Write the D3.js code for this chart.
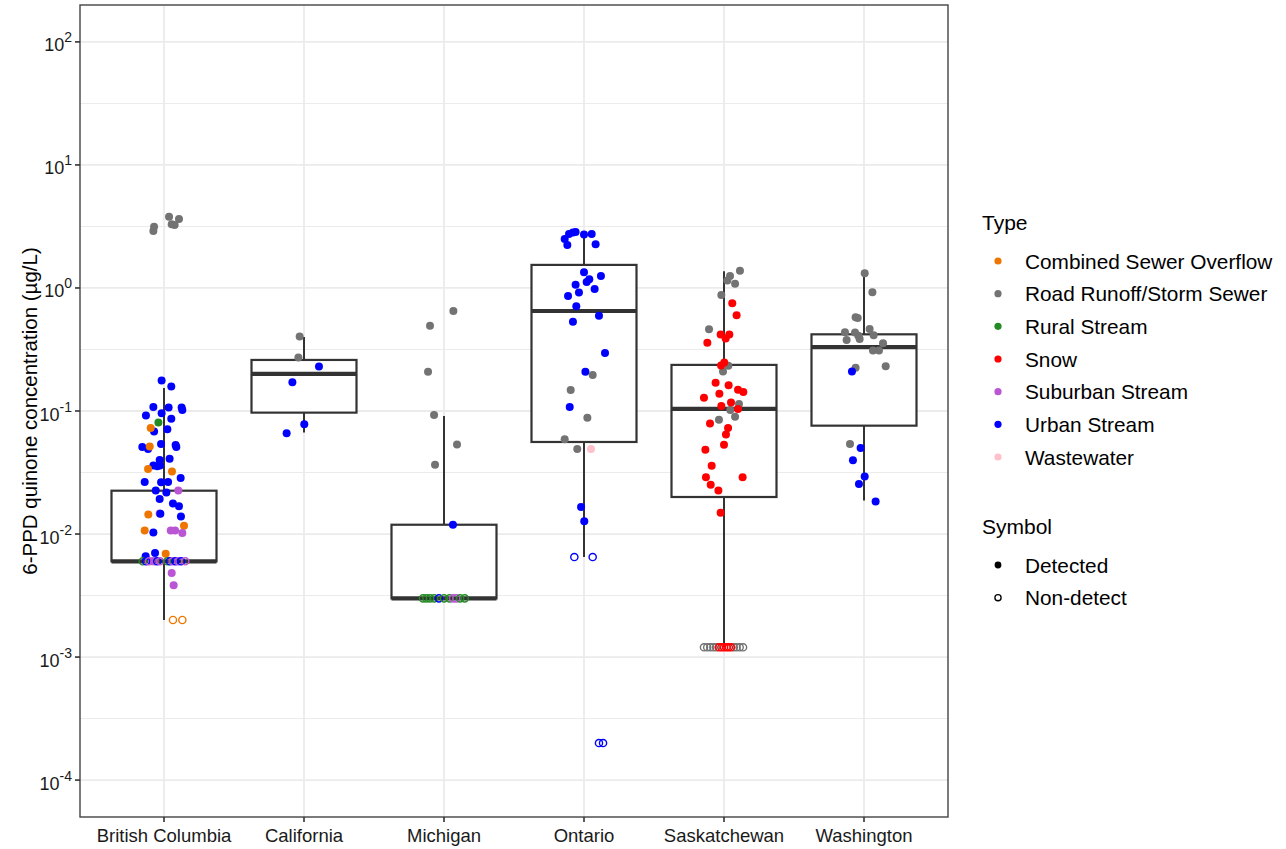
<!DOCTYPE html>
<html>
<head>
<meta charset="utf-8">
<script src="https://cdn.jsdelivr.net/npm/d3@7"></script>
<style>
  body { margin: 0; background: #fff; }
  svg { font-family: "Liberation Sans", Arial, sans-serif; }
</style>
</head>
<body>
<div id="chart"></div>
<script>
// Categories and legend entries
const regions = ["British Columbia", "California", "Michigan", "Ontario", "Saskatchewan", "Washington"];
const typeNames = ["Combined Sewer Overflow", "Road Runoff/Storm Sewer", "Rural Stream", "Snow",
                   "Suburban Stream", "Urban Stream", "Wastewater"];
const typeCodes = ["C", "R", "G", "S", "P", "U", "W"];
const typeColors = ["#EE7600", "#737373", "#228B22", "#FF0000", "#BA55D3", "#0000FF", "#FFC0CB"];
const symbolNames = ["Detected", "Non-detect"];
const yTickExps = [-4, -3, -2, -1, 0, 1, 2];

// Box statistics per region (low whisker, Q1, median, Q3, high whisker), µg/L
const whiskerLow  = [0.002, 0.067, 0.003, 0.0065, 0.0012, 0.0187];
const boxQ1       = [0.006, 0.097, 0.003, 0.056, 0.020, 0.076];
const boxMedian   = [0.006, 0.20, 0.003, 0.65, 0.104, 0.33];
const boxQ3       = [0.0225, 0.26, 0.0119, 1.54, 0.237, 0.42];
const whiskerHigh = [0.154, 0.40, 0.091, 2.74, 1.37, 1.32];

// Points: [type code, value, jitter (in category widths), detected 1 / non-detect 0]
const bcPoints = [
  ["R", 3.15, -0.071, 1], ["R", 2.9, -0.076, 1], ["R", 3.79, 0.036, 1], ["R", 3.29, 0.055, 1],
  ["R", 3.25, 0.076, 1], ["R", 3.63, 0.107, 1],
  ["U", 0.177, -0.017, 1], ["U", 0.158, 0.052, 1], ["U", 0.108, -0.076, 1], ["U", 0.107, 0.033, 1],
  ["U", 0.107, 0.126, 1], ["U", 0.102, 0.131, 1], ["U", 0.092, -0.129, 1], ["U", 0.096, -0.017, 1],
  ["U", 0.0865, 0.052, 1], ["U", 0.068, -0.071, 1], ["U", 0.071, 0.024, 1], ["U", 0.054, -0.021, 1],
  ["U", 0.051, -0.155, 1], ["U", 0.049, -0.114, 1], ["U", 0.053, 0.083, 1], ["U", 0.051, 0.088, 1],
  ["U", 0.040, -0.031, 1], ["U", 0.041, 0.040, 1], ["U", 0.036, -0.076, 1], ["U", 0.0355, -0.048, 1],
  ["U", 0.036, -0.029, 1], ["U", 0.0265, -0.138, 1], ["U", 0.0263, -0.021, 1], ["U", 0.0265, 0.029, 1],
  ["U", 0.0285, 0.119, 1], ["U", 0.0226, -0.059, 1], ["U", 0.0218, 0.017, 1], ["U", 0.0193, -0.031, 1],
  ["U", 0.0177, 0.064, 1], ["U", 0.0168, 0.107, 1], ["U", 0.0139, 0.121, 1], ["P", 0.0147, -0.031, 1],
  ["U", 0.0146, -0.026, 1], ["U", 0.0103, -0.076, 1], ["U", 0.0070, -0.064, 1], ["U", 0.0066, -0.131, 1],
  ["C", 0.0726, -0.095, 1], ["C", 0.0515, -0.102, 1], ["C", 0.0337, -0.114, 1], ["C", 0.0323, 0.057, 1],
  ["C", 0.0144, -0.112, 1], ["C", 0.0107, -0.138, 1], ["C", 0.0117, 0.143, 1], ["C", 0.0069, 0.012, 1],
  ["G", 0.0807, -0.040, 1],
  ["P", 0.0226, 0.102, 1], ["P", 0.0107, 0.048, 1], ["P", 0.0107, 0.079, 1], ["P", 0.0102, 0.131, 1],
  ["P", 0.00483, 0.055, 1], ["P", 0.00384, 0.069, 1], ["P", 0.006, -0.088, 1],
  ["G", 0.006, -0.152, 0], ["U", 0.006, -0.128, 0], ["P", 0.006, -0.108, 0], ["P", 0.006, -0.068, 0],
  ["U", 0.006, -0.048, 0], ["P", 0.006, -0.028, 0], ["G", 0.006, 0.024, 0], ["U", 0.006, 0.042, 0],
  ["P", 0.006, 0.062, 0], ["U", 0.006, 0.082, 0], ["P", 0.006, 0.102, 0], ["U", 0.006, 0.122, 0],
  ["P", 0.006, 0.152, 0],
  ["C", 0.002, 0.064, 0], ["C", 0.002, 0.131, 0]
];
const caPoints = [
  ["R", 0.403, -0.031, 1], ["R", 0.272, -0.040, 1], ["U", 0.230, 0.107, 1], ["U", 0.171, -0.083, 1],
  ["U", 0.078, 0.002, 1], ["U", 0.066, -0.124, 1]
];
const miPoints = [
  ["R", 0.65, 0.067, 1], ["R", 0.494, -0.100, 1], ["R", 0.208, -0.114, 1], ["R", 0.0926, -0.071, 1],
  ["R", 0.0535, 0.093, 1], ["R", 0.0366, -0.064, 1], ["U", 0.0119, 0.064, 1],
  ["G", 0.003, -0.150, 0], ["G", 0.003, -0.125, 0], ["G", 0.003, -0.100, 0], ["G", 0.003, -0.070, 0],
  ["U", 0.003, -0.036, 0], ["G", 0.003, 0.000, 0], ["G", 0.003, 0.040, 0], ["P", 0.003, 0.065, 0],
  ["P", 0.003, 0.088, 0], ["G", 0.003, 0.115, 0], ["G", 0.003, 0.148, 0]
];
const onPoints = [
  ["U", 2.50, -0.138, 1], ["U", 2.75, -0.107, 1], ["U", 2.83, -0.079, 1], ["U", 2.85, -0.060, 1],
  ["U", 2.72, 0.000, 1], ["U", 2.75, 0.055, 1], ["U", 2.27, 0.083, 1], ["U", 2.24, -0.119, 1],
  ["U", 1.34, 0.000, 1], ["U", 1.25, 0.121, 1], ["U", 1.12, 0.019, 1], ["U", 1.18, 0.038, 1],
  ["U", 1.06, -0.060, 1], ["U", 0.98, 0.076, 1], ["U", 0.92, -0.036, 1], ["U", 0.86, -0.114, 1],
  ["U", 0.71, -0.055, 1], ["U", 0.594, 0.107, 1], ["U", 0.532, -0.079, 1], ["U", 0.296, 0.150, 1],
  ["U", 0.208, 0.010, 1], ["U", 0.108, -0.102, 1],
  ["R", 0.196, 0.062, 1], ["R", 0.148, -0.095, 1], ["R", 0.088, 0.024, 1], ["R", 0.059, -0.138, 1],
  ["R", 0.049, -0.048, 1], ["W", 0.049, 0.050, 1],
  ["U", 0.0166, -0.021, 1], ["U", 0.0127, 0.002, 1],
  ["U", 0.0065, -0.069, 0], ["U", 0.0065, 0.062, 0], ["U", 0.0002, 0.107, 0], ["U", 0.0002, 0.136, 0]
];
const skPoints = [
  ["R", 1.38, 0.114, 1], ["R", 1.25, 0.043, 1], ["R", 1.15, 0.024, 1], ["R", 1.08, 0.079, 1],
  ["R", 0.877, -0.019, 1], ["R", 0.462, -0.107, 1], ["R", 0.233, 0.031, 1], ["R", 0.209, -0.007, 1],
  ["R", 0.114, 0.107, 1], ["R", 0.102, 0.045, 1], ["R", 0.090, 0.079, 1], ["R", 0.085, -0.036, 1],
  ["S", 0.751, 0.059, 1], ["S", 0.600, 0.090, 1], ["S", 0.418, -0.024, 1], ["S", 0.418, 0.038, 1],
  ["S", 0.388, 0.012, 1], ["S", 0.358, -0.119, 1], ["S", 0.248, 0.002, 1], ["S", 0.234, -0.021, 1],
  ["S", 0.170, -0.060, 1], ["S", 0.162, 0.033, 1], ["S", 0.149, 0.100, 1], ["S", 0.143, 0.138, 1],
  ["S", 0.138, -0.033, 1], ["S", 0.128, -0.143, 1], ["S", 0.117, 0.050, 1], ["S", 0.110, -0.019, 1],
  ["S", 0.104, 0.100, 1], ["S", 0.079, -0.100, 1], ["S", 0.0727, 0.029, 1], ["S", 0.0645, 0.014, 1],
  ["S", 0.0532, 0.000, 1], ["S", 0.0484, -0.133, 1], ["S", 0.0359, -0.088, 1], ["S", 0.0289, -0.129, 1],
  ["S", 0.0289, 0.133, 1], ["S", 0.0252, -0.095, 1], ["S", 0.0226, -0.040, 1], ["S", 0.0149, -0.024, 1],
  ["R", 0.0012, -0.143, 0], ["R", 0.0012, -0.120, 0], ["R", 0.0012, -0.098, 0], ["R", 0.0012, -0.076, 0],
  ["R", 0.0012, -0.056, 0], ["R", 0.0012, 0.070, 0], ["R", 0.0012, 0.090, 0], ["R", 0.0012, 0.112, 0],
  ["R", 0.0012, 0.136, 0],
  ["S", 0.0012, -0.036, 0], ["S", 0.0012, -0.018, 0], ["S", 0.0012, 0.000, 0], ["S", 0.0012, 0.018, 0],
  ["S", 0.0012, 0.034, 0], ["S", 0.0012, 0.050, 0]
];
const waPoints = [
  ["R", 1.32, 0.005, 1], ["R", 0.923, 0.060, 1], ["R", 0.578, -0.060, 1], ["R", 0.571, -0.045, 1],
  ["R", 0.437, -0.136, 1], ["R", 0.434, -0.064, 1], ["R", 0.465, 0.040, 1], ["R", 0.413, 0.069, 1],
  ["R", 0.408, -0.040, 1], ["R", 0.378, -0.124, 1], ["R", 0.385, -0.031, 1], ["R", 0.356, 0.136, 1],
  ["R", 0.310, 0.064, 1], ["R", 0.310, 0.107, 1], ["R", 0.225, -0.060, 1], ["R", 0.231, 0.155, 1],
  ["R", 0.0538, -0.100, 1],
  ["U", 0.209, -0.086, 1], ["U", 0.050, -0.024, 1], ["U", 0.0397, -0.079, 1], ["U", 0.0294, 0.005, 1],
  ["U", 0.0255, -0.036, 1], ["U", 0.0184, 0.083, 1]
];
const pointsByRegion = [bcPoints, caPoints, miPoints, onPoints, skPoints, waPoints];

// Layout
const W = 1286, H = 849;
const panel = { left: 80, right: 948, top: 5, bottom: 817 };

const svg = d3.select("#chart").append("svg")
    .attr("width", W)
    .attr("height", H);

const x = d3.scaleBand()
    .domain(regions)
    .range([panel.left, panel.right])
    .paddingInner(0)
    .paddingOuter(0.1);
const step = x.step();
const cx = r => x(r) + x.bandwidth() / 2;

const y = d3.scaleLog()
    .domain([Math.pow(10, -4.3), Math.pow(10, 2.3)])
    .range([panel.bottom, panel.top]);

const color = d3.scaleOrdinal().domain(typeCodes).range(typeColors);

// Panel background and grid
svg.append("rect")
    .attr("x", panel.left).attr("y", panel.top)
    .attr("width", panel.right - panel.left).attr("height", panel.bottom - panel.top)
    .attr("fill", "#fff");

const grid = svg.append("g");
yTickExps.slice(0, -1).forEach(e => {
    grid.append("line")
        .attr("x1", panel.left).attr("x2", panel.right)
        .attr("y1", y(Math.pow(10, e + 0.5))).attr("y2", y(Math.pow(10, e + 0.5)))
        .attr("stroke", "#EBEBEB").attr("stroke-width", 1);
});
yTickExps.forEach(e => {
    grid.append("line")
        .attr("x1", panel.left).attr("x2", panel.right)
        .attr("y1", y(Math.pow(10, e))).attr("y2", y(Math.pow(10, e)))
        .attr("stroke", "#EBEBEB").attr("stroke-width", 1.8);
});
regions.forEach(r => {
    grid.append("line")
        .attr("x1", cx(r)).attr("x2", cx(r))
        .attr("y1", panel.top).attr("y2", panel.bottom)
        .attr("stroke", "#EBEBEB").attr("stroke-width", 1.8);
});

// Boxplots
const boxW = step * 0.75;
const boxes = svg.append("g");
regions.forEach((r, i) => {
    const c = cx(r);
    boxes.append("line")
        .attr("x1", c).attr("x2", c)
        .attr("y1", y(boxQ3[i])).attr("y2", y(whiskerHigh[i]))
        .attr("stroke", "#333").attr("stroke-width", 2);
    boxes.append("line")
        .attr("x1", c).attr("x2", c)
        .attr("y1", y(boxQ1[i])).attr("y2", y(whiskerLow[i]))
        .attr("stroke", "#333").attr("stroke-width", 2);
    boxes.append("rect")
        .attr("x", c - boxW / 2).attr("y", y(boxQ3[i]))
        .attr("width", boxW).attr("height", y(boxQ1[i]) - y(boxQ3[i]))
        .attr("fill", "#fff").attr("stroke", "#333").attr("stroke-width", 2.2);
    boxes.append("line")
        .attr("x1", c - boxW / 2).attr("x2", c + boxW / 2)
        .attr("y1", y(boxMedian[i])).attr("y2", y(boxMedian[i]))
        .attr("stroke", "#333").attr("stroke-width", 4.2);
});

// Jittered points
const pts = svg.append("g");
regions.forEach((r, i) => {
    pts.selectAll(null)
        .data(pointsByRegion[i])
        .enter()
        .append("circle")
        .attr("cx", d => cx(r) + d[2] * step)
        .attr("cy", d => y(d[1]))
        .attr("r", d => d[3] ? 4 : 3.6)
        .attr("fill", d => d[3] ? color(d[0]) : "none")
        .attr("stroke", d => d[3] ? "none" : color(d[0]))
        .attr("stroke-width", 1.4);
});

// Panel border
svg.append("rect")
    .attr("x", panel.left).attr("y", panel.top)
    .attr("width", panel.right - panel.left).attr("height", panel.bottom - panel.top)
    .attr("fill", "none").attr("stroke", "#444").attr("stroke-width", 1.4);

// X axis
const xAxis = svg.append("g");
regions.forEach(r => {
    xAxis.append("line")
        .attr("x1", cx(r)).attr("x2", cx(r))
        .attr("y1", panel.bottom).attr("y2", panel.bottom + 5)
        .attr("stroke", "#333").attr("stroke-width", 1.6);
    xAxis.append("text")
        .attr("x", cx(r)).attr("y", 842)
        .attr("text-anchor", "middle")
        .style("font-size", "18.5px").style("fill", "#1a1a1a")
        .text(r);
});

// Y axis
const yAxis = svg.append("g");
yTickExps.forEach(e => {
    const yy = y(Math.pow(10, e));
    yAxis.append("line")
        .attr("x1", panel.left - 5).attr("x2", panel.left)
        .attr("y1", yy).attr("y2", yy)
        .attr("stroke", "#333").attr("stroke-width", 1.6);
    const t = yAxis.append("text")
        .attr("x", 72).attr("y", yy + 9.5)
        .attr("text-anchor", "end")
        .style("font-size", "18px").style("fill", "#1a1a1a");
    t.append("tspan").text("10");
    t.append("tspan").attr("dy", -9).style("font-size", "14px").text(String(e));
});

svg.append("text")
    .attr("transform", `translate(37, ${(panel.top + panel.bottom) / 2}) rotate(-90)`)
    .attr("text-anchor", "middle")
    .style("font-size", "20.5px").style("fill", "#000")
    .text("6-PPD quinone concentration (µg/L)");

// Legend: Type
const legend = svg.append("g");
legend.append("text")
    .attr("x", 982).attr("y", 230)
    .style("font-size", "21px").style("fill", "#000")
    .text("Type");
typeNames.forEach((name, i) => {
    const yy = 261 + i * 32.67;
    legend.append("circle")
        .attr("cx", 998).attr("cy", yy).attr("r", 3.6)
        .attr("fill", typeColors[i]);
    legend.append("text")
        .attr("x", 1025).attr("y", yy + 7.5)
        .style("font-size", "20.8px").style("fill", "#000")
        .text(name);
});

// Legend: Symbol
legend.append("text")
    .attr("x", 982).attr("y", 534)
    .style("font-size", "21px").style("fill", "#000")
    .text("Symbol");
symbolNames.forEach((name, i) => {
    const yy = 565 + i * 32.67;
    legend.append("circle")
        .attr("cx", 998).attr("cy", yy).attr("r", i === 0 ? 3.4 : 3.1)
        .attr("fill", i === 0 ? "#000" : "none")
        .attr("stroke", i === 0 ? "none" : "#000")
        .attr("stroke-width", 1.3);
    legend.append("text")
        .attr("x", 1025).attr("y", yy + 7.5)
        .style("font-size", "20.8px").style("fill", "#000")
        .text(name);
});
</script>
</body>
</html>
